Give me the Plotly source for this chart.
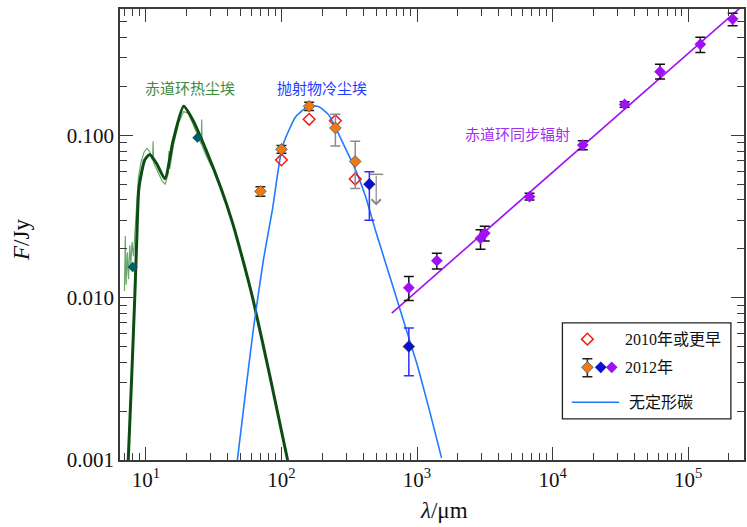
import plotly.graph_objects as go
import math

# ---------------- data ----------------
# warm dust model (equatorial ring) - thick dark green
warm_wl = [7.41, 7.85, 8.28, 8.56, 8.85, 9.27, 9.8, 10.67, 12.0, 13.8, 15.9, 19.0, 22.2, 27.8, 35.8, 43.4, 53.1, 61.8, 82.4, 111.0]
warm_F = [0.001, 0.0032, 0.0101, 0.0228, 0.046, 0.0585, 0.0705, 0.0763, 0.067, 0.054, 0.093, 0.151, 0.124, 0.0811, 0.0472, 0.0292, 0.0159, 0.00968, 0.00325, 0.001]

# IRS spectrum - thin light green
spec_wl = [6.95, 7.05, 7.15, 7.3, 7.45, 7.6, 7.75, 7.9, 8.1, 8.3, 8.5, 8.8, 9.2, 9.7, 10.2, 10.7, 11.2, 11.3, 11.4, 12.2, 13.2, 13.9, 14.6, 14.8, 15.0, 16.0, 17.5, 19.0, 20.5, 22.0, 24.0, 25.6, 25.8, 26.0, 28.0, 30.5]
spec_F = [0.011, 0.024, 0.012, 0.019, 0.013, 0.021, 0.016, 0.022, 0.018, 0.026, 0.036, 0.055, 0.068, 0.079, 0.083, 0.079, 0.07, 0.092, 0.068, 0.06, 0.052, 0.05, 0.058, 0.08, 0.062, 0.088, 0.12, 0.14, 0.137, 0.12, 0.099, 0.088, 0.125, 0.086, 0.074, 0.064]

# warm dust photometry (teal diamonds)
teal_wl = [8.0, 24.0]
teal_F = [0.01545, 0.0967]

# cold ejecta dust model (amorphous carbon) - blue
cold_wl = [47.3, 54.0, 61.9, 73.6, 85.7, 101.5, 127.4, 159.4, 188.8, 223.6, 304.5, 341.4, 415.8, 492.6, 583.1, 751.8, 840.3, 999.0, 1248.0, 1517.0]
cold_F = [0.001, 0.0025, 0.0063, 0.0171, 0.0347, 0.0851, 0.1302, 0.1516, 0.150, 0.1334, 0.0793, 0.0650, 0.0425, 0.0261, 0.0166, 0.0084, 0.0062, 0.0039, 0.00195, 0.00103]

# 2010 or earlier (red open diamonds)
old_wl = [100, 160, 250, 350]
old_F = [0.0705, 0.1255, 0.123, 0.0538]

# 2012 Herschel (orange), black error bars
her_wl = [70, 100, 160]
her_F = [0.0452, 0.082, 0.151]
her_ep = [0.003, 0.0045, 0.009]
her_em = [0.003, 0.0045, 0.009]
# 2012 Herschel (orange), grey error bars
her2_wl = [250, 350]
her2_F = [0.111, 0.069]
her2_ep = [0.024, 0.023]
her2_em = [0.025, 0.022]

# 2012 sub-mm (blue diamonds)
sub_wl = [445, 870]
sub_F = [0.050, 0.0050]
sub_ep = [0.0097, 0.0015]
sub_em = [0.020, 0.0017]

# upper limit
ul_wl = [500]
ul_F = [0.0575]
ul_tip = [0.037]

# synchrotron (purple)
syn_wl = [870, 1400, 2940, 3160, 6760, 16700, 34000, 62000, 123000, 213000]
syn_F = [0.0115, 0.0169, 0.0232, 0.0249, 0.0419, 0.0871, 0.155, 0.2465, 0.3635, 0.520]
syn_ep = [0.002, 0.0019, 0.003, 0.0026, 0.002, 0.0055, 0.006, 0.027, 0.038, 0.044]
syn_em = [0.0019, 0.0019, 0.0033, 0.0026, 0.002, 0.0055, 0.006, 0.024, 0.040, 0.047]
syn_line_wl = [652, 280000]
syn_line_F = [0.00802, 0.00802 * (280000 / 652) ** 0.732]

x_tickvals = [10, 100, 1000, 10000, 100000]
x_ticktext = ["10<sup>1</sup>", "10<sup>2</sup>", "10<sup>3</sup>", "10<sup>4</sup>", "10<sup>5</sup>"]

labels = {"warm": "赤道环热尘埃", "cold": "抛射物冷尘埃", "syn": "赤道环同步辐射"}
leg_text = ["2010年或更早", "2012年", "无定形碳"]

# ---------------- colours ----------------
C_GREEN = "#0b4d12"
C_LGREEN = "#6aa86a"
C_TEAL = "#005f66"
C_BLUE = "#1f7bff"
C_ORANGE = "#f07a12"
C_DBLUE = "#0a10d0"
C_PURPLE = "#a010f5"
C_RED = "#ee1c1c"
AX = "#3a3a3a"
SERIF = "Liberation Serif, DejaVu Serif, serif"
CJK = "Noto Sans CJK SC"
MS = 9

fig = go.Figure()

fig.add_trace(go.Scatter(x=spec_wl, y=spec_F, mode="lines",
                         line=dict(color=C_LGREEN, width=1.2), hoverinfo="skip"))
fig.add_trace(go.Scatter(x=warm_wl, y=warm_F, mode="lines",
                         line=dict(color=C_GREEN, width=3, shape="spline", smoothing=0.6)))
fig.add_trace(go.Scatter(x=cold_wl, y=cold_F, mode="lines",
                         line=dict(color=C_BLUE, width=1.6, shape="spline", smoothing=0.5)))
fig.add_trace(go.Scatter(x=syn_line_wl, y=syn_line_F, mode="lines",
                         line=dict(color=C_PURPLE, width=1.6)))
fig.add_trace(go.Scatter(x=teal_wl, y=teal_F, mode="markers",
                         marker=dict(symbol="diamond", size=8, color=C_TEAL)))
# upper limit cap + arrow
fig.add_trace(go.Scatter(x=ul_wl, y=ul_F, mode="markers",
                         marker=dict(symbol="line-ew", size=10, line=dict(color="#8a8a8a", width=1.5))))
for w, f, t in zip(ul_wl, ul_F, ul_tip):
    fig.add_annotation(x=math.log10(w), y=math.log10(t), ax=math.log10(w), ay=math.log10(f),
                       axref="x", ayref="y", xref="x", yref="y", text="", showarrow=True,
                       arrowhead=4, arrowsize=1.5, arrowwidth=1.2, arrowcolor="#8a8a8a")

fig.add_trace(go.Scatter(x=old_wl, y=old_F, mode="markers",
                         marker=dict(symbol="diamond-open", size=MS, color=C_RED, line=dict(width=1.5))))
fig.add_trace(go.Scatter(x=her2_wl, y=her2_F, mode="markers",
                         error_y=dict(type="data", array=her2_ep, arrayminus=her2_em, color="#8c8c8c", thickness=1.5, width=5),
                         marker=dict(symbol="diamond", size=MS, color=C_ORANGE, line=dict(color="#555", width=0.8))))
fig.add_trace(go.Scatter(x=her_wl, y=her_F, mode="markers",
                         error_y=dict(type="data", array=her_ep, arrayminus=her_em, color="#222", thickness=1.5, width=5),
                         marker=dict(symbol="diamond", size=MS, color=C_ORANGE, line=dict(color="#555", width=0.8))))
fig.add_trace(go.Scatter(x=sub_wl, y=sub_F, mode="markers",
                         error_y=dict(type="data", array=sub_ep, arrayminus=sub_em, color="#3030ff", thickness=1.5, width=5),
                         marker=dict(symbol="diamond", size=MS, color=C_DBLUE, line=dict(color="#333", width=0.6))))
fig.add_trace(go.Scatter(x=syn_wl, y=syn_F, mode="markers",
                         error_y=dict(type="data", array=syn_ep, arrayminus=syn_em, color="#111", thickness=1.5, width=5),
                         marker=dict(symbol="diamond", size=MS, color=C_PURPLE)))

# ---------------- custom legend (overlay paper-like axes) ----------------
fig.add_trace(go.Scatter(x=[0.749], y=[0.268], xaxis="x2", yaxis="y2", mode="markers",
                         marker=dict(symbol="diamond-open", size=MS, color=C_RED, line=dict(width=1.5))))
fig.add_trace(go.Scatter(x=[0.749], y=[0.2055], xaxis="x2", yaxis="y2", mode="markers",
                         error_y=dict(type="data", array=[0.019], arrayminus=[0.021], color="#222", thickness=1.5, width=5),
                         marker=dict(symbol="diamond", size=MS, color=C_ORANGE, line=dict(color="#555", width=0.8))))
fig.add_trace(go.Scatter(x=[0.7705], y=[0.2055], xaxis="x2", yaxis="y2", mode="markers",
                         marker=dict(symbol="diamond", size=MS, color=C_DBLUE)))
fig.add_trace(go.Scatter(x=[0.788], y=[0.2055], xaxis="x2", yaxis="y2", mode="markers",
                         marker=dict(symbol="diamond", size=MS, color=C_PURPLE)))
fig.add_trace(go.Scatter(x=[0.724, 0.800], y=[0.128, 0.128], xaxis="x2", yaxis="y2", mode="lines",
                         line=dict(color=C_BLUE, width=1.6)))

fig.add_shape(type="rect", xref="paper", yref="paper", x0=0.709, x1=0.979, y0=0.091, y1=0.304,
              line=dict(color="#222", width=1.3), fillcolor="rgba(255,255,255,0)")
for txt, xx, yy in zip(leg_text, [0.8056, 0.8056, 0.812], [0.268, 0.2055, 0.128]):
    fig.add_annotation(x=xx, y=yy, xref="paper", yref="paper", text=txt, showarrow=False,
                       xanchor="left", yanchor="middle", font=dict(family=SERIF + ", " + CJK, size=16, color="#111"))

# region labels
fig.add_annotation(x=0.112, y=0.827, xref="paper", yref="paper", text=labels["warm"], showarrow=False,
                   xanchor="center", yanchor="middle", font=dict(family=CJK, size=15, color="#3c8a3c"))
fig.add_annotation(x=0.324, y=0.827, xref="paper", yref="paper", text=labels["cold"], showarrow=False,
                   xanchor="center", yanchor="middle", font=dict(family=CJK, size=15, color="#1e3cff"))
fig.add_annotation(x=0.637, y=0.725, xref="paper", yref="paper", text=labels["syn"], showarrow=False,
                   xanchor="center", yanchor="middle", font=dict(family=CJK, size=15, color="#a030f0"))

# axis titles
fig.add_annotation(x=0.52, y=-0.112, xref="paper", yref="paper", text="<i>λ</i>/μm", showarrow=False,
                   xanchor="center", yanchor="middle", font=dict(family=SERIF, size=23, color="#111"))
fig.add_annotation(x=-0.157, y=0.488, xref="paper", yref="paper", text="<i>F</i>/Jy", showarrow=False,
                   textangle=-90, xanchor="center", yanchor="middle", font=dict(family=SERIF, size=23, color="#111"))

x_minor = [m * 10 ** k for k in range(0, 6) for m in range(2, 10)]

fig.update_layout(
    width=747, height=527,
    margin=dict(l=120, r=1, t=9, b=67),
    plot_bgcolor="white", paper_bgcolor="white",
    showlegend=False,
    xaxis=dict(type="log", range=[0.809, 5.412], tickmode="array", tickvals=x_tickvals, ticktext=x_ticktext,
               ticks="inside", ticklen=13, tickwidth=1.3, tickcolor=AX, showline=True, linecolor=AX, linewidth=1.5,
               mirror="ticks", showgrid=False, zeroline=False,
               tickfont=dict(family=SERIF, size=21, color="#111"),
               minor=dict(tickmode="array", tickvals=x_minor, ticks="inside", ticklen=7, tickwidth=1.2, tickcolor=AX, showgrid=False)),
    yaxis=dict(type="log", range=[-3, -0.222], dtick=1, tickformat=".3f",
               ticks="inside", ticklen=13, tickwidth=1.3, tickcolor=AX, showline=True, linecolor=AX, linewidth=1.5,
               mirror="ticks", showgrid=False, zeroline=False,
               tickfont=dict(family=SERIF, size=21, color="#111"),
               minor=dict(dtick="D1", ticks="inside", ticklen=7, tickwidth=1.2, tickcolor=AX, showgrid=False)),
    xaxis2=dict(overlaying="x", range=[0, 1], visible=False, domain=[0, 1]),
    yaxis2=dict(overlaying="y", range=[0, 1], visible=False, domain=[0, 1]),
)

fig.write_html("out.html")
